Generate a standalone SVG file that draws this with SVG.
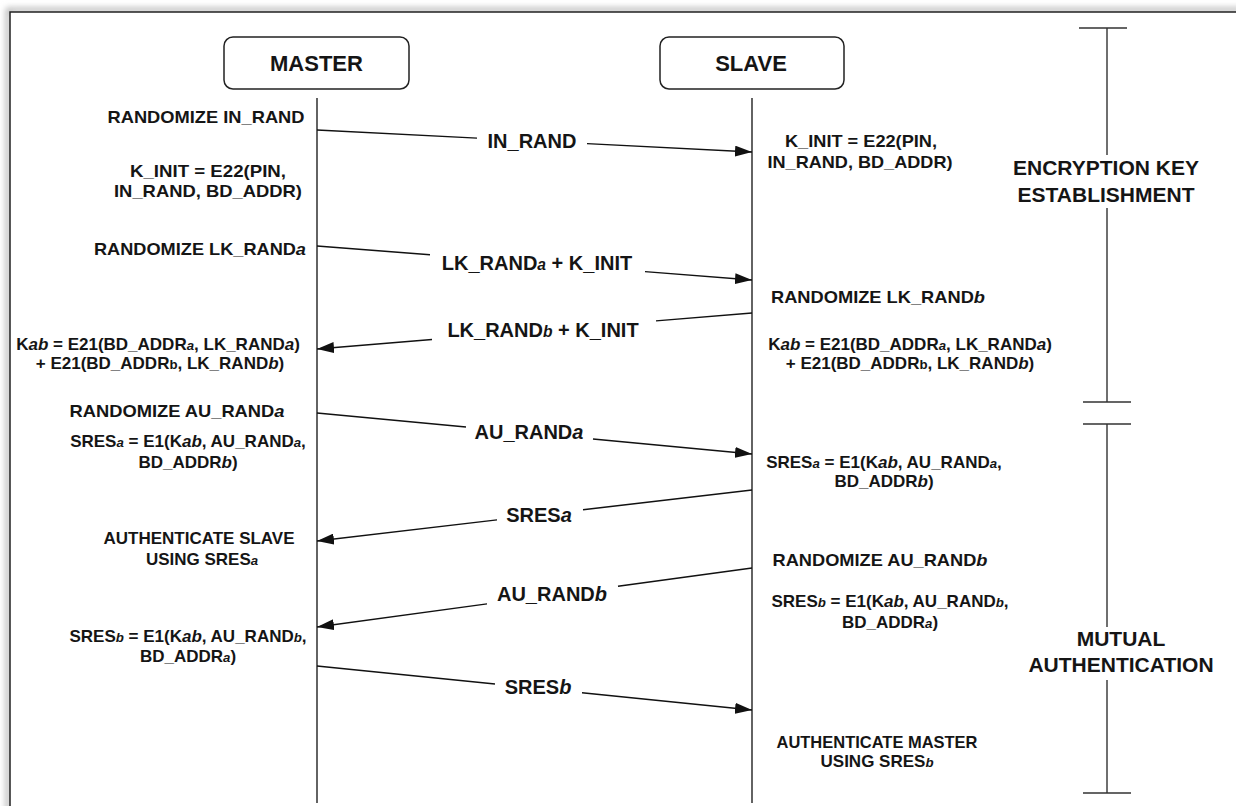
<svg xmlns="http://www.w3.org/2000/svg" width="1236" height="806" viewBox="0 0 1236 806">
<style>
text{font-family:"Liberation Sans",Arial,sans-serif;font-weight:bold;fill:#151515}
.s{font-size:17px;text-anchor:middle}
.l{font-size:20px;text-anchor:middle}
.h{font-size:21px;text-anchor:middle}
.t{font-size:22px;text-anchor:middle}
.it{font-style:italic}
.sm{font-style:italic;font-size:0.78em}
.box{fill:#fff;stroke:#222;stroke-width:1.5}
.life{stroke:#222;stroke-width:1.4;fill:none}
.msg{stroke:#111;stroke-width:1.4;fill:none}
.br{stroke:#333;stroke-width:1.4;fill:none}
</style>
<defs>
<marker id="ah" viewBox="0 0 17 11" refX="17" refY="5.5" markerWidth="17" markerHeight="11" markerUnits="userSpaceOnUse" orient="auto"><path d="M0,0 L17,5.5 L0,11 z" fill="#111"/></marker>
<filter id="sh" x="-5%" y="-5%" width="110%" height="110%"><feGaussianBlur stdDeviation="3"/></filter>
</defs>
<rect width="1236" height="806" fill="#fff"/>
<g id="frame">
<rect x="8" y="10" width="1250" height="810" fill="none" stroke="#aaa" stroke-width="4" filter="url(#sh)"/>
<rect x="10" y="12" width="1250" height="810" fill="#fff" stroke="#222" stroke-width="1.5"/>
</g>
<g id="master">
<rect class="box" x="224" y="37" width="185" height="52" rx="9"/>
<text class="t" x="316.5" y="71">MASTER</text>
<line class="life" x1="317" y1="98" x2="317" y2="803"/>
</g>
<g id="slave">
<rect class="box" x="660" y="37" width="184" height="52" rx="9"/>
<text class="t" x="751" y="71">SLAVE</text>
<line class="life" x1="752" y1="98" x2="752" y2="803"/>
</g>
<g id="master-notes">
<text class="s" x="206" y="123" textLength="197" lengthAdjust="spacingAndGlyphs">RANDOMIZE IN_RAND</text>
<text class="s" x="208" y="177" textLength="156" lengthAdjust="spacingAndGlyphs">K_INIT = E22(PIN,</text>
<text class="s" x="208" y="197" textLength="188" lengthAdjust="spacingAndGlyphs">IN_RAND, BD_ADDR)</text>
<text class="s" x="200" y="255" textLength="212" lengthAdjust="spacingAndGlyphs">RANDOMIZE LK_RAND<tspan class="it">a</tspan></text>
<text class="s" x="158" y="350">K<tspan class="it">ab</tspan> = E21(BD_ADDR<tspan class="sm">a</tspan>, LK_RAND<tspan class="it">a</tspan>)</text>
<text class="s" x="160" y="369">+ E21(BD_ADDR<tspan font-size="0.78em">b</tspan>, LK_RAND<tspan class="it">b</tspan>)</text>
<text class="s" x="177" y="417" textLength="215" lengthAdjust="spacingAndGlyphs">RANDOMIZE AU_RAND<tspan class="it">a</tspan></text>
<text class="s" x="188" y="447">SRES<tspan class="sm">a</tspan> = E1(K<tspan class="it">ab</tspan>, AU_RAND<tspan class="sm">a</tspan>,</text>
<text class="s" x="188" y="468">BD_ADDR<tspan class="it">b</tspan>)</text>
<text class="s" x="199" y="544">AUTHENTICATE SLAVE</text>
<text class="s" x="202" y="565">USING SRES<tspan class="sm">a</tspan></text>
<text class="s" x="188" y="642">SRES<tspan class="sm">b</tspan> = E1(K<tspan class="it">ab</tspan>, AU_RAND<tspan class="sm">b</tspan>,</text>
<text class="s" x="188" y="662">BD_ADDR<tspan class="sm">a</tspan>)</text>
</g>
<g id="slave-notes">
<text class="s" x="861" y="147" textLength="152" lengthAdjust="spacingAndGlyphs">K_INIT = E22(PIN,</text>
<text class="s" x="860" y="168" textLength="185" lengthAdjust="spacingAndGlyphs">IN_RAND, BD_ADDR)</text>
<text class="s" x="878" y="303" textLength="214" lengthAdjust="spacingAndGlyphs">RANDOMIZE LK_RAND<tspan class="it">b</tspan></text>
<text class="s" x="910" y="350">K<tspan class="it">ab</tspan> = E21(BD_ADDR<tspan class="sm">a</tspan>, LK_RAND<tspan class="it">a</tspan>)</text>
<text class="s" x="910" y="369">+ E21(BD_ADDR<tspan font-size="0.78em">b</tspan>, LK_RAND<tspan class="it">b</tspan>)</text>
<text class="s" x="884" y="468">SRES<tspan class="sm">a</tspan> = E1(K<tspan class="it">ab</tspan>, AU_RAND<tspan class="sm">a</tspan>,</text>
<text class="s" x="884" y="487">BD_ADDR<tspan class="it">b</tspan>)</text>
<text class="s" x="880" y="566" textLength="215" lengthAdjust="spacingAndGlyphs">RANDOMIZE AU_RAND<tspan class="it">b</tspan></text>
<text class="s" x="890" y="607">SRES<tspan class="sm">b</tspan> = E1(K<tspan class="it">ab</tspan>, AU_RAND<tspan class="sm">b</tspan>,</text>
<text class="s" x="890" y="628">BD_ADDR<tspan class="sm">a</tspan>)</text>
<text class="s" x="877" y="748" textLength="201" lengthAdjust="spacingAndGlyphs">AUTHENTICATE MASTER</text>
<text class="s" x="877" y="767">USING SRES<tspan class="sm">b</tspan></text>
</g>
<g id="connectors">
<path class="msg" d="M317,130 L477,138.1 M587,143.65 L752,152" marker-end="url(#ah)"/>
<path class="msg" d="M317,246 L430,254.8 M645,271.6 L752,280" marker-end="url(#ah)"/>
<path class="msg" d="M752,313 L656,320.9 M432,339.5 L317,349" marker-end="url(#ah)"/>
<path class="msg" d="M317,413 L466,427 M593,439 L752,454" marker-end="url(#ah)"/>
<path class="msg" d="M752,490 L583,509.8 M497,519.9 L317,541" marker-end="url(#ah)"/>
<path class="msg" d="M752,568 L618,586.2 M487,603.9 L317,627" marker-end="url(#ah)"/>
<path class="msg" d="M317,666 L495,684 M582,692.8 L752,710" marker-end="url(#ah)"/>
</g>
<g id="labels">
<text class="l" x="532" y="148">IN_RAND</text>
<text class="l" x="537" y="270">LK_RAND<tspan class="sm">a</tspan> + K_INIT</text>
<text class="l" x="543" y="337">LK_RAND<tspan class="sm">b</tspan> + K_INIT</text>
<text class="l" x="529" y="439">AU_RAND<tspan class="it">a</tspan></text>
<text class="l" x="539" y="522">SRES<tspan class="it">a</tspan></text>
<text class="l" x="552" y="601">AU_RAND<tspan class="it">b</tspan></text>
<text class="l" x="538" y="694">SRES<tspan class="it">b</tspan></text>
</g>
<g id="phase-encryption">
<path class="br" d="M1079,28 H1127 M1107,28 V155 M1107,208 V402 M1083,402 H1131"/>
<text class="h" x="1106" y="175">ENCRYPTION KEY</text>
<text class="h" x="1106" y="202">ESTABLISHMENT</text>
</g>
<g id="phase-mutual">
<path class="br" d="M1083,424 H1131 M1107,424 V627 M1107,680 V793 M1083,793 H1131"/>
<text class="h" x="1121" y="646">MUTUAL</text>
<text class="h" x="1121" y="672">AUTHENTICATION</text>
</g>
</svg>
